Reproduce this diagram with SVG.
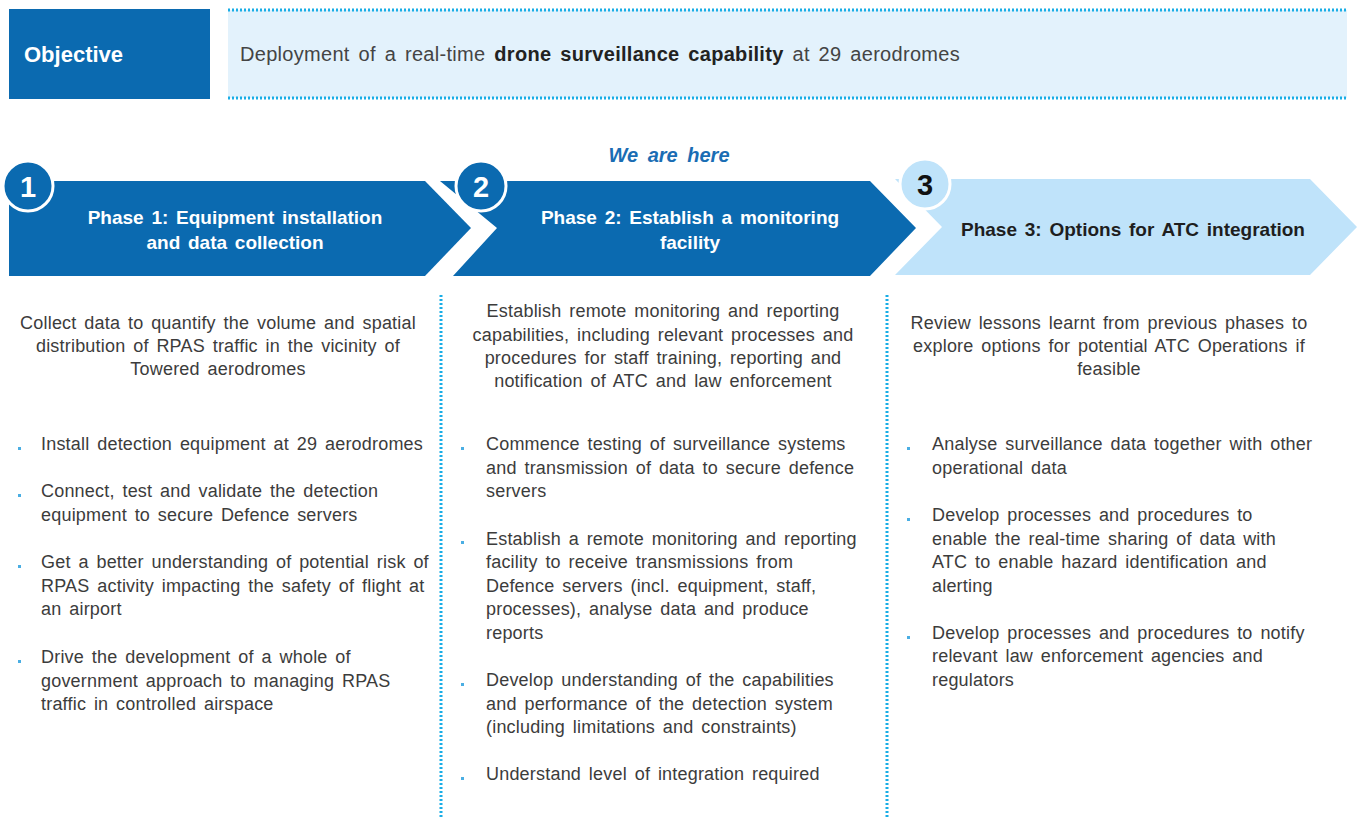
<svg xmlns="http://www.w3.org/2000/svg" width="1357" height="819" viewBox="0 0 1357 819">
<style>
text{font-family:"Liberation Sans",Arial,sans-serif}
.body{font-size:18px;fill:#3c3c3c;word-spacing:2.6px;letter-spacing:0.2px}
.mid{text-anchor:middle}
.title{font-size:19px;font-weight:bold;fill:#ffffff;text-anchor:middle;word-spacing:2.5px}
.num{font-size:29px;font-weight:bold;fill:#ffffff;text-anchor:middle}
.dark{fill:#0b6ab0}
.light{fill:#bfe3fa}
.dot{stroke:#19ade6;stroke-width:3;stroke-dasharray:2 2;fill:none}
.bul{fill:#4aaee3}
</style>
<rect width="1357" height="819" fill="#ffffff"/>
<g id="objective">
<rect x="9" y="9" width="201" height="90" class="dark"/>
<text x="24" y="62" style="font-size:22px;font-weight:bold;fill:#ffffff">Objective</text>
</g>
<g id="objective-text">
<rect x="228" y="10" width="1119" height="88" fill="#e3f2fc"/>
<line x1="228" y1="10" x2="1347" y2="10" class="dot"/>
<line x1="228" y1="98" x2="1347" y2="98" class="dot"/>
<text x="240" y="61" style="font-size:20px;fill:#444444;word-spacing:3px;letter-spacing:0.3px">Deployment of a real-time <tspan font-weight="bold" fill="#222222">drone surveillance capability</tspan> at 29 aerodromes</text>
</g>
<text x="669" y="162" class="mid" style="font-size:20px;font-weight:bold;font-style:italic;fill:#1a6db4;word-spacing:4px">We are here</text>
<g id="phase1">
<polygon points="9,181 425,181 471,228 425,276 9,276" class="dark"/>
<text x="235" y="224" class="title">Phase 1: Equipment installation</text>
<text x="235" y="249" class="title">and data collection</text>
<circle cx="28" cy="186" r="25" class="dark" stroke="#ffffff" stroke-width="3"/>
<text x="28" y="197" class="num">1</text>
</g>
<g id="phase2">
<polygon points="440,181 870,181 916,228 870,276 453,276 497,228" class="dark"/>
<text x="690" y="224" class="title">Phase 2: Establish a monitoring</text>
<text x="690" y="249" class="title">facility</text>
<circle cx="481" cy="186" r="25" class="dark" stroke="#ffffff" stroke-width="3"/>
<text x="481" y="197" class="num">2</text>
</g>
<g id="phase3">
<polygon points="895,179 1310,179 1357,227 1310,275 895,275 942,227" class="light"/>
<text x="1133" y="236" class="title" style="fill:#1e1e1e">Phase 3: Options for ATC integration</text>
<circle cx="925" cy="184" r="25" class="light" stroke="#ffffff" stroke-width="3"/>
<text x="925" y="195" class="num" style="fill:#111111">3</text>
</g>
<g id="dividers">
<line x1="441" y1="295" x2="441" y2="819" class="dot"/>
<line x1="887" y1="295" x2="887" y2="819" class="dot"/>
</g>
<g id="col1">
<text x="218" y="329" class="body mid">Collect data to quantify the volume and spatial</text>
<text x="218" y="352" class="body mid">distribution of RPAS traffic in the vicinity of</text>
<text x="218" y="375" class="body mid">Towered aerodromes</text>
<rect x="18" y="447" width="3" height="3" class="bul"/>
<text x="41" y="450" class="body">Install detection equipment at 29 aerodromes</text>
<rect x="18" y="494" width="3" height="3" class="bul"/>
<text x="41" y="497" class="body">Connect, test and validate the detection</text>
<text x="41" y="521" class="body">equipment to secure Defence servers</text>
<rect x="18" y="565" width="3" height="3" class="bul"/>
<text x="41" y="568" class="body">Get a better understanding of potential risk of</text>
<text x="41" y="592" class="body">RPAS activity impacting the safety of flight at</text>
<text x="41" y="615" class="body">an airport</text>
<rect x="18" y="660" width="3" height="3" class="bul"/>
<text x="41" y="663" class="body">Drive the development of a whole of</text>
<text x="41" y="687" class="body">government approach to managing RPAS</text>
<text x="41" y="710" class="body">traffic in controlled airspace</text>
</g>
<g id="col2">
<text x="663" y="317" class="body mid">Establish remote monitoring and reporting</text>
<text x="663" y="341" class="body mid">capabilities, including relevant processes and</text>
<text x="663" y="364" class="body mid">procedures for staff training, reporting and</text>
<text x="663" y="387" class="body mid">notification of ATC and law enforcement</text>
<rect x="461" y="447" width="3" height="3" class="bul"/>
<text x="486" y="450" class="body">Commence testing of surveillance systems</text>
<text x="486" y="474" class="body">and transmission of data to secure defence</text>
<text x="486" y="497" class="body">servers</text>
<rect x="461" y="541" width="3" height="3" class="bul"/>
<text x="486" y="545" class="body">Establish a remote monitoring and reporting</text>
<text x="486" y="568" class="body">facility to receive transmissions from</text>
<text x="486" y="592" class="body">Defence servers (incl. equipment, staff,</text>
<text x="486" y="615" class="body">processes), analyse data and produce</text>
<text x="486" y="639" class="body">reports</text>
<rect x="461" y="683" width="3" height="3" class="bul"/>
<text x="486" y="686" class="body">Develop understanding of the capabilities</text>
<text x="486" y="710" class="body">and performance of the detection system</text>
<text x="486" y="733" class="body">(including limitations and constraints)</text>
<rect x="461" y="777" width="3" height="3" class="bul"/>
<text x="486" y="780" class="body">Understand level of integration required</text>
</g>
<g id="col3">
<text x="1109" y="329" class="body mid">Review lessons learnt from previous phases to</text>
<text x="1109" y="352" class="body mid">explore options for potential ATC Operations if</text>
<text x="1109" y="375" class="body mid">feasible</text>
<rect x="907" y="447" width="3" height="3" class="bul"/>
<text x="932" y="450" class="body">Analyse surveillance data together with other</text>
<text x="932" y="474" class="body">operational data</text>
<rect x="907" y="518" width="3" height="3" class="bul"/>
<text x="932" y="521" class="body">Develop processes and procedures to</text>
<text x="932" y="545" class="body">enable the real-time sharing of data with</text>
<text x="932" y="568" class="body">ATC to enable hazard identification and</text>
<text x="932" y="592" class="body">alerting</text>
<rect x="907" y="636" width="3" height="3" class="bul"/>
<text x="932" y="639" class="body">Develop processes and procedures to notify</text>
<text x="932" y="662" class="body">relevant law enforcement agencies and</text>
<text x="932" y="686" class="body">regulators</text>
</g>
</svg>
